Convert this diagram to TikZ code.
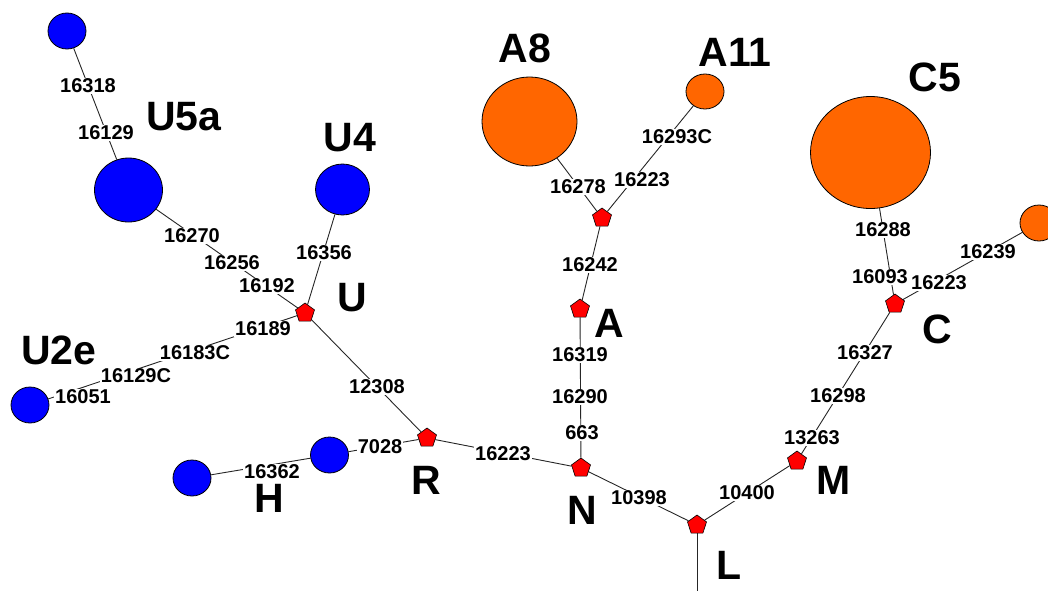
\documentclass[tikz,border=0pt]{standalone}
\usepackage{fontspec}
\setmainfont{Liberation Sans}
\usetikzlibrary{shapes.geometric,backgrounds}

\definecolor{hapblue}{HTML}{0000FF}
\definecolor{haporange}{HTML}{FF6600}
\definecolor{medred}{HTML}{FF0000}

\tikzset{
  hap/.style={ellipse, draw=black, line width=0.8pt, inner sep=0pt},
  bluehap/.style={hap, fill=hapblue},
  orangehap/.style={hap, fill=haporange},
  median/.style={regular polygon, regular polygon sides=5, draw=black,
    fill=medred, line width=0.6pt, minimum size=20pt, inner sep=0pt},
  mut/.style={fill=white, inner sep=1pt,
    font=\bfseries\fontsize{20}{20}\selectfont},
  clade/.style={inner sep=0pt, font=\bfseries\fontsize{41}{41}\selectfont},
  link/.style={draw=black!85, line width=0.9pt}
}

\begin{document}
\begin{tikzpicture}[x=1pt,y=-1pt]
\path[use as bounding box] (0,0) rectangle (1048,590);
\clip (0,0) rectangle (1048,590);

% haplotypes
\node[bluehap, minimum width=38pt, minimum height=36pt] (u5b) at (67,31) {};
\node[bluehap, minimum width=68pt, minimum height=64pt] (u5a) at (128.5,190) {};
\node[bluehap, minimum width=54pt, minimum height=51pt] (u4) at (342.5,189.5) {};
\node[bluehap, minimum width=38pt, minimum height=36pt] (u2e) at (30,405) {};
\node[bluehap, minimum width=38pt, minimum height=36pt] (h2) at (192,478) {};
\node[bluehap, minimum width=38pt, minimum height=36pt] (h1) at (329.5,455) {};
\node[orangehap, minimum width=95pt, minimum height=89pt] (a8) at (529.5,121.5) {};
\node[orangehap, minimum width=38pt, minimum height=35pt] (a11) at (705,91.5) {};
\node[orangehap, minimum width=120pt, minimum height=112pt] (c5) at (870.5,152.5) {};
\node[orangehap, minimum width=38pt, minimum height=36pt] (c6) at (1039,223) {};

% median vectors
\node[median] (U) at (305,313) {};
\node[median] (R) at (427,438) {};
\node[median] (A0) at (602,218) {};
\node[median] (A) at (580,309) {};
\node[median] (N) at (581,468) {};
\node[median] (L) at (697,525) {};
\node[median] (M) at (797,461) {};
\node[median] (C) at (895,304) {};
\coordinate (Lend) at (697,600);

% links
\begin{scope}[on background layer]
\draw[link] (u5b) -- (u5a);
\draw[link] (u5a) -- (U);
\draw[link] (u4) -- (U);
\draw[link] (U) -- (u2e);
\draw[link] (U) -- (R);
\draw[link] (R) -- (h1);
\draw[link] (h1) -- (h2);
\draw[link] (R) -- (N);
\draw[link] (A0) -- (a8);
\draw[link] (A0) -- (a11);
\draw[link] (A0) -- (A);
\draw[link] (A) -- (N);
\draw[link] (N) -- (L);
\draw[link] (L) -- (M);
\draw[link] (M) -- (C);
\draw[link] (C) -- (c5);
\draw[link] (C) -- (c6);
\draw[link] (L) -- (Lend);
\end{scope}

% mutations
\node[mut] (m1) at (88,86) {16318};
\node[mut] (m2) at (106,133) {16129};
\node[mut] (m3) at (192,236) {16270};
\node[mut] (m4) at (232,263) {16256};
\node[mut] (m5) at (267,286) {16192};
\node[mut] (m6) at (324,253) {16356};
\node[mut] (m7) at (263,329) {16189};
\node[mut] (m8) at (195,353) {16183C};
\node[mut] (m9) at (136,376) {16129C};
\node[mut] (m10) at (83,397) {16051};
\node[mut] (m11) at (377,387) {12308};
\node[mut] (m12) at (380,447) {7028};
\node[mut] (m13) at (272,472) {16362};
\node[mut] (m14) at (503,454) {16223};
\node[mut] (m15) at (578,187) {16278};
\node[mut] (m16) at (642,180) {16223};
\node[mut] (m17) at (677,137) {16293C};
\node[mut] (m18) at (590,265) {16242};
\node[mut] (m19) at (580,355) {16319};
\node[mut] (m20) at (580,397) {16290};
\node[mut] (m21) at (582,433) {663};
\node[mut] (m22) at (639,498) {10398};
\node[mut] (m23) at (747,493) {10400};
\node[mut] (m24) at (812,438) {13263};
\node[mut] (m25) at (838,396) {16298};
\node[mut] (m26) at (865,353) {16327};
\node[mut] (m27) at (883,230) {16288};
\node[mut] (m28) at (880,277) {16093};
\node[mut] (m29) at (939,283) {16223};
\node[mut] (m30) at (988,252) {16239};

% clade names
\node[clade] (lU5a) at (184,117) {U5a};
\node[clade] (lU4) at (350,138) {U4};
\node[clade] (lU) at (352,298) {U};
\node[clade] (lU2e) at (59,350) {U2e};
\node[clade] (lH) at (269,498) {H};
\node[clade] (lR) at (426,480) {R};
\node[clade] (lA8) at (525,48) {A8};
\node[clade] (lA11) at (735,52) {A11};
\node[clade] (lC5) at (935,77) {C5};
\node[clade] (lA) at (609,323) {A};
\node[clade] (lN) at (582,510) {N};
\node[clade] (lM) at (834,480) {M};
\node[clade] (lC) at (937,329) {C};
\node[clade] (lL) at (729,565) {L};
\end{tikzpicture}
\end{document}
